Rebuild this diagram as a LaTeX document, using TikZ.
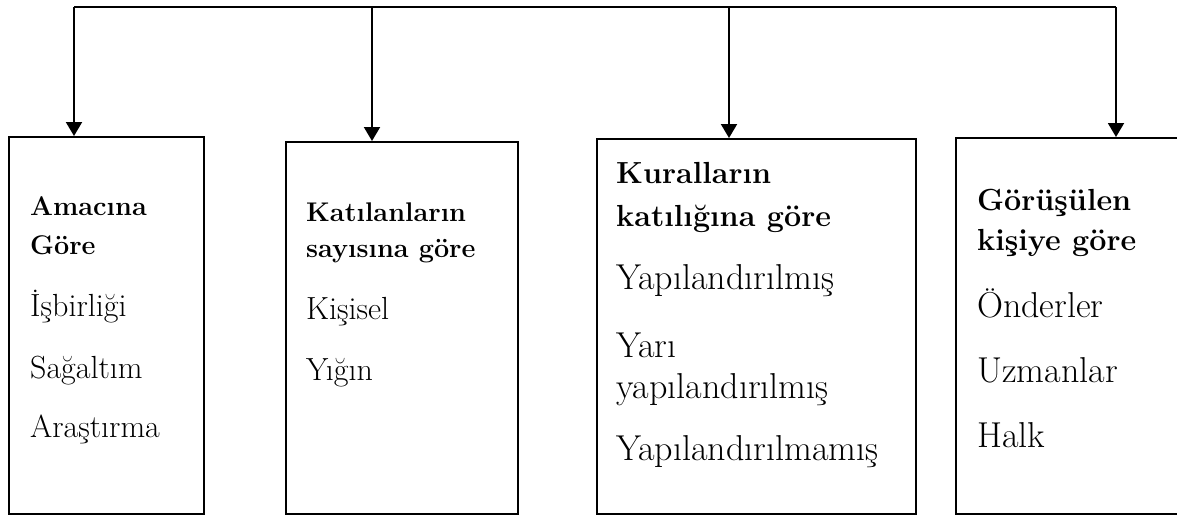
\documentclass[tikz,border=0pt]{standalone}
\usepackage{fontspec}
\setmainfont{Latin Modern Roman}
\usetikzlibrary{arrows.meta}
\tikzset{
  frame/.style={draw=black, line width=2pt, rectangle, anchor=north west, inner sep=0pt},
  bus/.style={draw=black, line width=1.2pt},
  drop/.style={draw=black, line width=2pt, -{Triangle[length=14pt,width=16pt]}},
  headA/.style={anchor=base west, inner sep=0pt, font=\fontsize{27}{30}\selectfont\bfseries},
  itemA/.style={anchor=base west, inner sep=0pt, font=\fontsize{32}{36}\selectfont},
  headB/.style={anchor=base west, inner sep=0pt, font=\fontsize{30.5}{34}\selectfont\bfseries},
  itemB/.style={anchor=base west, inner sep=0pt, font=\fontsize{36}{40}\selectfont},
}
\begin{document}
\begin{tikzpicture}[x=1pt, y=-1pt]
\clip (0,0) rectangle (1177,515);
\useasboundingbox (0,0) rectangle (1177,515);
% boxes
\node[frame, minimum width=195pt, minimum height=377pt] (b1) at (8,136) {};
\node[frame, minimum width=232pt, minimum height=372pt] (b2) at (285,141) {};
\node[frame, minimum width=319pt, minimum height=375pt] (b3) at (596,138) {};
\node[frame, minimum width=260pt, minimum height=376pt] (b4) at (955,137) {};
% bus
\coordinate (t1) at (74,7);
\coordinate (t2) at (372,7);
\coordinate (t3) at (729,7);
\coordinate (t4) at (1116,7);
\draw[bus] (t1) -- (t4);
\draw[drop] (t1) -- (t1 |- b1.north);
\draw[drop] (t2) -- (t2 |- b2.north);
\draw[drop] (t3) -- (t3 |- b3.north);
\draw[drop] (t4) -- (t4 |- b4.north);
% box 1
\node[headA] (h1a) at (30,215) {Amacına};
\node[headA] (h1b) at (30,254) {Göre};
\node[itemA] (i1a) at (30,316) {İşbirliği};
\node[itemA] (i1b) at (30,378) {Sağaltım};
\node[itemA] (i1c) at (30,437) {Araştırma};
% box 2
\node[headA] (h2a) at (306,221) {Katılanların};
\node[headA] (h2b) at (306,257) {sayısına göre};
\node[itemA] (i2a) at (306,319) {Kişisel};
\node[itemA] (i2b) at (306,380) {Yığın};
% box 3
\node[headB] (h3a) at (616,183) {Kuralların};
\node[headB] (h3b) at (616,226) {katılığına göre};
\node[itemB] (i3a) at (616,289) {Yapılandırılmış};
\node[itemB] (i3b) at (616,357) {Yarı};
\node[itemB] (i3c) at (616,398) {yapılandırılmış};
\node[itemB] (i3d) at (616,460) {Yapılandırılmamış};
% box 4
\node[headB] (h4a) at (977,210) {Görüşülen};
\node[headB] (h4b) at (977,250) {kişiye göre};
\node[itemB] (i4a) at (977,317) {Önderler};
\node[itemB] (i4b) at (977,382) {Uzmanlar};
\node[itemB] (i4c) at (977,447) {Halk};
\end{tikzpicture}
\end{document}
